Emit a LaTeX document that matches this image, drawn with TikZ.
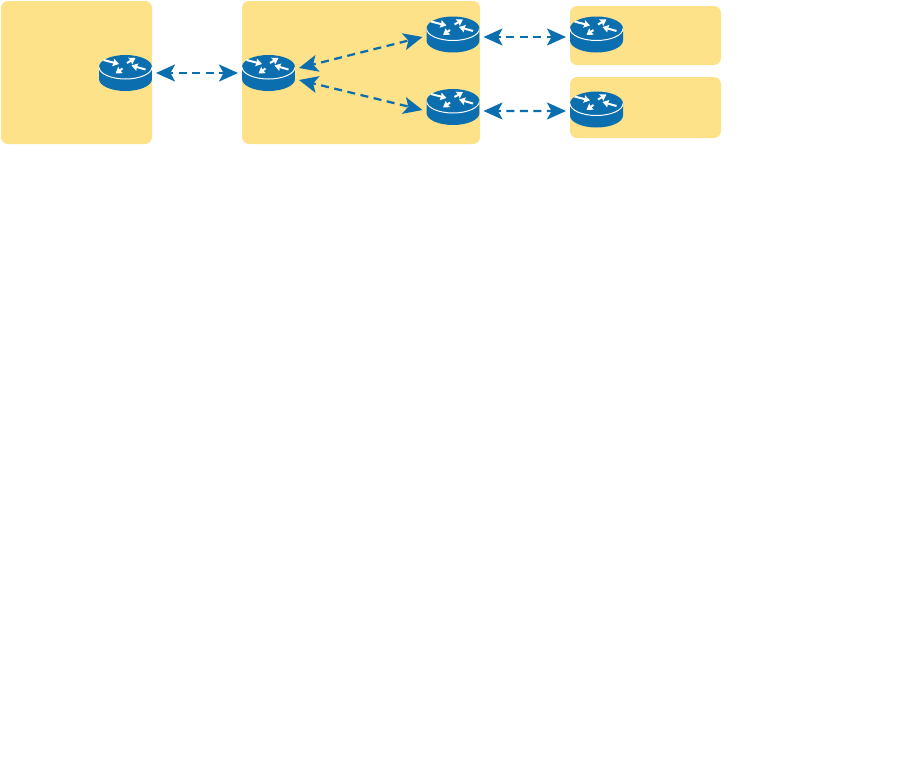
\documentclass[tikz,border=0pt]{standalone}
\usetikzlibrary{arrows.meta}
\definecolor{routerblue}{HTML}{0B6EAE}
\definecolor{sitefill}{HTML}{FDE28A}
\tikzset{
  sitebox/.style={fill=sitefill, rounded corners=0.14cm},
  routerarrow/.style={white, line width=0.04cm, -{Stealth[length=0.12cm, width=0.15cm, inset=0.01cm]}},
  link/.style={routerblue, line width=0.045cm, dash pattern=on 0.16cm off 0.11cm, dash phase=0.09cm, <->,
    >={Stealth[length=0.38cm, width=0.34cm, inset=0.09cm]}},
  router/.style={minimum width=1.06cm, minimum height=0.72cm, inner sep=0pt, outer sep=0.08cm,
    path picture={
      \begin{scope}[shift={(path picture bounding box.center)}]
        \fill[routerblue] (-26.5,-6) -- (-26.5,6) arc[start angle=180, end angle=0, x radius=26.5, y radius=12]
          -- (26.5,-6) arc[start angle=0, end angle=-180, x radius=26.5, y radius=12];
        \draw[white, line width=0.02cm] (-26.5,-6) arc[start angle=180, end angle=0, x radius=26.5, y radius=12];
        \foreach \xa/\ya/\xb/\yb in {-22/-13/-6.5/-9, 20/-3.5/6/-7.5, 1.5/-10/10/-15, -3/-4.5/-10/0.5} {
          \draw[routerarrow] (\xa,\ya) -- (\xb,\yb);
        }
      \end{scope}
    }},
}
\begin{document}
\begin{tikzpicture}[x=0.02cm, y=-0.02cm]
    \useasboundingbox (0,0) rectangle (903,765);

    % Sitios
    \fill[sitebox] (1,1) rectangle (152,144);
    \fill[sitebox] (242,1) rectangle (480,144);
    \fill[sitebox] (570,6) rectangle (721,65);
    \fill[sitebox] (570,77) rectangle (721,138);

    % Routers
    \node[router] (r1) at (125.5,73) {};
    \node[router] (r2) at (268.5,73) {};
    \node[router] (r3) at (453,34.5) {};
    \node[router] (r4) at (453,107) {};
    \node[router] (r5) at (596.5,34.5) {};
    \node[router] (r6) at (596.5,109.5) {};

    % Enlaces
    \draw[link] (r1.east) -- (r2.west);
    \draw[link] ([yshift=0.1cm]r2.east) -- ([yshift=-0.05cm]r3.west);
    \draw[link] ([yshift=-0.14cm]r2.east) -- ([yshift=-0.06cm]r4.west);
    \draw[link] ([yshift=-0.05cm]r3.east) -- ([yshift=-0.05cm]r5.west);
    \draw[link] ([yshift=-0.08cm]r4.east) -- ([yshift=-0.03cm]r6.west);
\end{tikzpicture}
\end{document}
